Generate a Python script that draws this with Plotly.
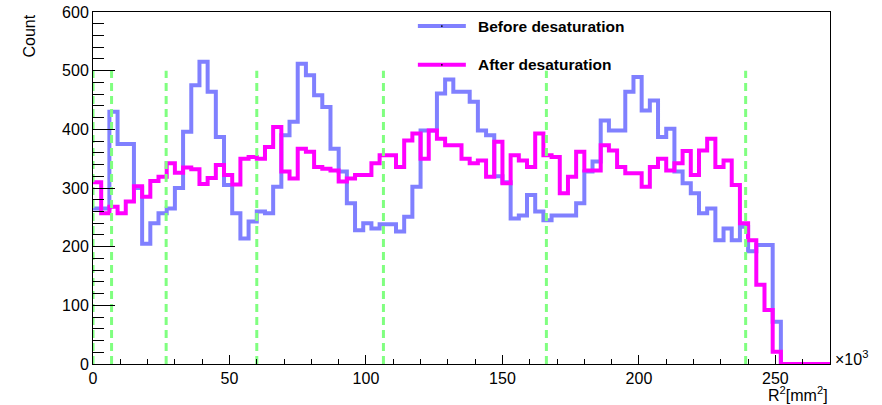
import numpy as np
import plotly.graph_objects as go

# Histogram binning: 90 bins of width 3 (x10^3 mm^2) from 0 to 270
bin_width = 3
n_bins = 90
edges = [i * bin_width for i in range(n_bins + 1)]

before_counts = [
    265, 265, 430, 375, 375, 300, 205, 240, 257, 265,
    300, 396, 475, 515, 464, 387, 305, 257, 214, 243,
    260, 257, 302, 390, 413, 512, 492, 458, 438, 367,
    328, 274, 228, 240, 231, 238, 238, 226, 251, 302,
    398, 398, 461, 485, 464, 464, 447, 398, 390, 320,
    310, 248, 253, 288, 260, 245, 253, 253, 253, 274,
    328, 345, 415, 398, 398, 464, 489, 432, 449, 387,
    401, 328, 308, 291, 257, 265, 211, 231, 211, 234,
    192, 203, 203, 72, 0, 0, 0, 0, 0, 0,
]

after_counts = [
    310, 257, 268, 257, 277, 303, 285, 312, 319, 342,
    326, 335, 332, 307, 317, 339, 322, 306, 350, 353,
    350, 370, 404, 328, 316, 367, 362, 336, 333, 330,
    311, 316, 322, 322, 342, 356, 356, 336, 381, 393,
    350, 398, 384, 373, 373, 350, 342, 347, 319, 379,
    308, 356, 347, 336, 393, 356, 353, 291, 319, 362,
    330, 330, 373, 364, 336, 325, 325, 302, 336, 350,
    330, 342, 363, 322, 364, 384, 336, 347, 305, 240,
    211, 135, 92, 21, 0, 0, 0, 0, 0, 0,
]

# Ring boundaries in R^2 (x10^3 mm^2) and the height of the marker lines
boundaries = [0, 6.8, 26.8, 60.0, 106.4, 166.1, 239.1]
boundary_height = 500

legend_names = ["Before desaturation", "After desaturation"]
colors = ["rgb(128,128,255)", "rgb(255,0,255)"]

FONT = "Liberation Sans, Arial, Helvetica, sans-serif"

fig = go.Figure()

for counts, color, name in zip([before_counts, after_counts], colors, legend_names):
    fig.add_trace(go.Scatter(
        x=edges,
        y=counts + [counts[-1]],
        mode="lines",
        line=dict(color=color, width=4, shape="hv"),
        name=name,
        showlegend=False,
        hoverinfo="skip",
    ))

for b in boundaries:
    fig.add_trace(go.Scatter(
        x=[b, b],
        y=[0, boundary_height],
        mode="lines",
        line=dict(color="rgb(128,255,128)", width=3, dash="8px,5px"),
        showlegend=False,
        hoverinfo="skip",
    ))

# Legend drawn by hand: line sample + bold label, no frame
leg_x0, leg_x1, leg_text_x = 0.4408, 0.5059, 0.5195
leg_ys = [0.960, 0.850]
for y, color, name in zip(leg_ys, colors, legend_names):
    fig.add_shape(type="line", xref="paper", yref="paper",
                  x0=leg_x0, x1=leg_x1, y0=y, y1=y,
                  line=dict(color=color, width=4))
    fig.add_shape(type="circle", xref="paper", yref="paper",
                  x0=(leg_x0 + leg_x1) / 2 - 0.0012, x1=(leg_x0 + leg_x1) / 2 + 0.0012,
                  y0=y - 0.0025, y1=y + 0.0025,
                  fillcolor="black", line=dict(width=0))
    fig.add_annotation(xref="paper", yref="paper", x=leg_text_x, y=y,
                       xanchor="left", yanchor="middle", showarrow=False,
                       text=f"<b>{name}</b>",
                       font=dict(family=FONT, size=15.5, color="black"))

# Axis titles and exponent label
fig.add_annotation(xref="paper", yref="paper", x=-0.0855, y=1.0,
                   xanchor="center", yanchor="top", textangle=-90,
                   showarrow=False, text="Count",
                   font=dict(family=FONT, size=16, color="black"))
fig.add_annotation(xref="paper", yref="paper", x=1.0, y=-0.118,
                   xanchor="right", yanchor="bottom", showarrow=False,
                   text="R<sup>2</sup>[mm<sup>2</sup>]",
                   font=dict(family=FONT, size=16, color="black"))
fig.add_annotation(xref="paper", yref="paper", x=1.004, y=0.018,
                   xanchor="left", yanchor="middle", showarrow=False,
                   text="×10<sup>3</sup>",
                   font=dict(family=FONT, size=16, color="black"))

fig.update_xaxes(
    range=[0, 270], showgrid=False, zeroline=False, automargin=False,
    showline=True, mirror=True, linecolor="black", linewidth=1,
    ticks="inside", ticklen=9, tickwidth=1, tickcolor="black",
    tick0=0, dtick=50,
    minor=dict(ticks="inside", ticklen=5, tickwidth=1, tickcolor="black", dtick=10, showgrid=False),
    tickfont=dict(family=FONT, size=16, color="black"),
)
fig.update_yaxes(
    range=[0, 600], showgrid=False, zeroline=False, automargin=False,
    showline=True, mirror=True, linecolor="black", linewidth=1,
    ticks="inside", ticklen=22, tickwidth=1, tickcolor="black",
    tick0=0, dtick=100,
    minor=dict(ticks="inside", ticklen=11, tickwidth=1, tickcolor="black", dtick=20, showgrid=False),
    tickfont=dict(family=FONT, size=16, color="black"),
)

fig.update_layout(
    width=882, height=405,
    margin=dict(l=93, r=52, t=12, b=41),
    paper_bgcolor="white", plot_bgcolor="white",
    showlegend=False,
)

fig.write_html("out.html")
